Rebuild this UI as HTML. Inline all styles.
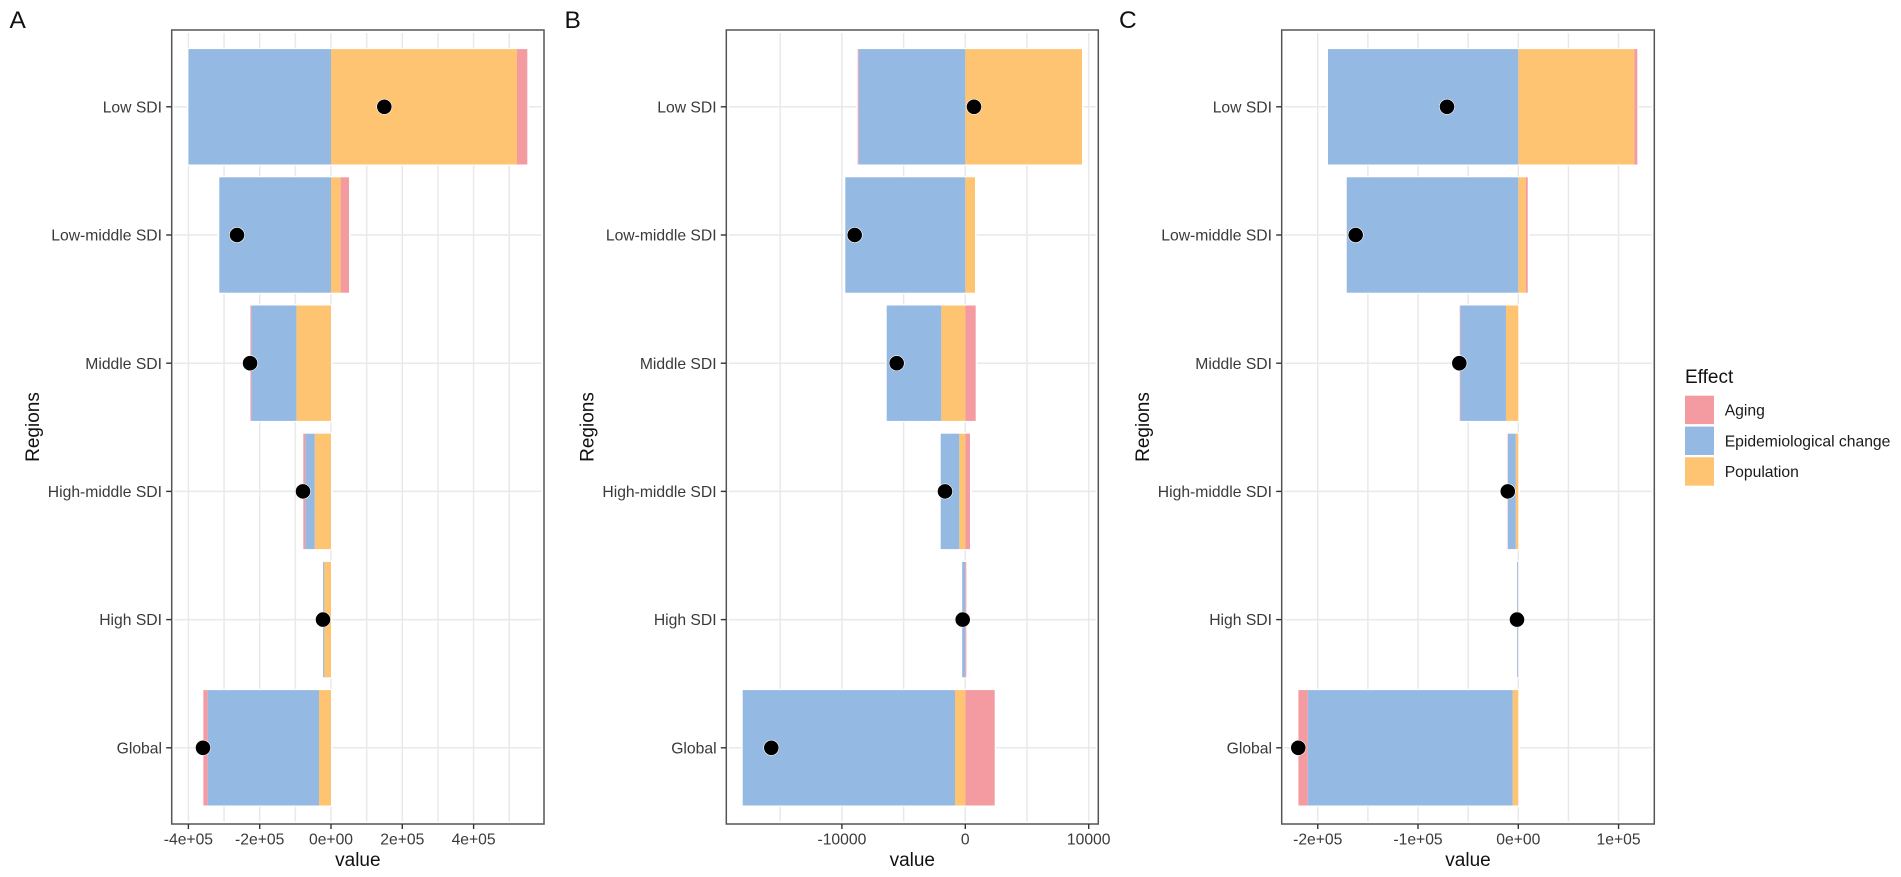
<!DOCTYPE html>
<html lang="en">
<head>
<meta charset="utf-8">
<title>Decomposition of change by SDI region</title>
<style>
html,body{margin:0;padding:0;background:#fff;}
svg{display:block;font-family:"Liberation Sans",Arial,sans-serif;}
</style>
</head>
<body>
<svg id="chart" xmlns="http://www.w3.org/2000/svg" width="1901" height="877" viewBox="0 0 1901 877">
  <rect x="0" y="0" width="1901" height="877" fill="#fff"/>
  <text x="9.5" y="28" font-size="24.5" fill="#111">A</text>
  <text x="564.5" y="28" font-size="24.5" fill="#111">B</text>
  <text x="1119" y="28" font-size="24.5" fill="#111">C</text>
  <g id="panels"></g>
  <g>
    <text x="1685" y="383" font-size="19" fill="#111">Effect</text>
    <rect x="1685" y="395.7" width="29" height="28.4" fill="#F39BA0"/>
    <rect x="1685" y="426.6" width="29" height="28.4" fill="#94B9E3"/>
    <rect x="1685" y="457.3" width="29" height="28.4" fill="#FEC471"/>
    <text x="1724.7" y="415.6" font-size="15.7" fill="#1a1a1a">Aging</text>
    <text x="1724.7" y="446.3" font-size="15.7" fill="#1a1a1a">Epidemiological change</text>
    <text x="1724.7" y="477" font-size="15.7" fill="#1a1a1a">Population</text>
  </g>
</svg>
<script>
// Categories, bottom to top
const regions = ['Global', 'High SDI', 'High-middle SDI', 'Middle SDI', 'Low-middle SDI', 'Low SDI'];

// Panel A values
const aAging = [-12000, -300, -5700, -2700, 23500, 29000];
const aEpi = [-312300, -3400, -26300, -126300, -313300, -400000];
const aPop = [-33700, -18700, -45700, -97000, 27000, 521700];
const aNet = [-359000, -22400, -78500, -227000, -263700, 149500];
const aDomain = [-446850, 597480];
const aMajorTicks = [-400000, -200000, 0, 200000, 400000];
const aMajorLabels = ['-4e+05', '-2e+05', '0e+00', '2e+05', '4e+05'];
const aMinorTicks = [-300000, -100000, 100000, 300000, 500000];

// Panel B values
const bAging = [2382, 81, 381, 843, 0, -81];
const bEpi = [-17204, -243, -1507, -4425, -9725, -8639];
const bPop = [-835, -10, -486, -1945, 786, 9457];
const bNet = [-15721, -211, -1645, -5560, -8963, 705];
const bDomain = [-19368, 10778];
const bMajorTicks = [-10000, 0, 10000];
const bMajorLabels = ['-10000', '0', '10000'];
const bMinorTicks = [-15000, -5000, 5000];

// Panel C values
const cAging = [-9300, -100, -300, -600, 2000, 3000];
const cEpi = [-204400, -1000, -7700, -45500, -171100, -189800];
const cPop = [-5600, -100, -2600, -12300, 7400, 115700];
const cNet = [-219400, -1300, -10500, -58800, -162200, -71100];
const cDomain = [-235960, 135630];
const cMajorTicks = [-200000, -100000, 0, 100000];
const cMajorLabels = ['-2e+05', '-1e+05', '0e+00', '1e+05'];
const cMinorTicks = [-150000, -50000, 50000];

const NS = 'http://www.w3.org/2000/svg';
const TOP = 30, BOTTOM = 824, BAND = 128.2, BASE = 747.8, BAR_H = 115.4;
const COLORS = { aging: '#F39BA0', epi: '#94B9E3', pop: '#FEC471' };

function yPos(i) { return BASE - i * BAND; }

function mk(tag, attrs, parent) {
  const el = document.createElementNS(NS, tag);
  for (const k in attrs) el.setAttribute(k, attrs[k]);
  parent.appendChild(el);
  return el;
}

function drawPanel(cfg) {
  const x = v => cfg.left + (v - cfg.domain[0]) / (cfg.domain[1] - cfg.domain[0]) * (cfg.right - cfg.left);

  const g = mk('g', {}, document.getElementById('panels'));
  
  

  // gridlines
  cfg.minor.concat(cfg.major).forEach(v => {
    const l = mk('line', { x1: x(v), x2: x(v), y1: TOP + 3, y2: BOTTOM - 2.5, stroke: '#e9e9e9', 'stroke-width': 1.5 }, g);
    
    
  });
  regions.forEach((r, i) => {
    const l = mk('line', { x1: cfg.left + 2.5, x2: cfg.right - 2.5, y1: yPos(i), y2: yPos(i), stroke: '#e9e9e9', 'stroke-width': 1.5 }, g);
    
    
  });

  // stacked bars
  regions.forEach((r, i) => {
    const parts = [['pop', cfg.pop[i]], ['epi', cfg.epi[i]], ['aging', cfg.aging[i]]];
    let pos = 0, neg = 0;
    const segs = [];
    parts.forEach(p => {
      const v = p[1];
      if (v >= 0) { segs.push([p[0], pos, pos + v]); pos += v; }
      else { segs.push([p[0], neg + v, neg]); neg += v; }
    });
    const yc = yPos(i);
    const halo = mk('rect', { x: x(neg) - 1.6, y: yc - BAR_H / 2 - 1.2, width: x(pos) - x(neg) + 3.2, height: BAR_H + 2.4, fill: '#fff' }, g);
    
    
    segs.forEach(s => {
      if (s[2] === s[1]) return;
      const b = mk('rect', { x: x(s[1]), y: yc - BAR_H / 2, width: x(s[2]) - x(s[1]), height: BAR_H, fill: COLORS[s[0]] }, g);
      
      
    });
  });

  // net-change points
  regions.forEach((r, i) => {
    const c = mk('circle', { cx: x(cfg.net[i]), cy: yPos(i), r: 7.6, fill: '#000', stroke: '#fff', 'stroke-width': 0.6 }, g);
    
    
  });

  // border
  const border = mk('rect', { x: cfg.left, y: TOP, width: cfg.right - cfg.left, height: BOTTOM - TOP, fill: 'none', stroke: '#555', 'stroke-width': 1.5 }, g);
  
  

  // y axis
  regions.forEach((r, i) => {
    const t = mk('line', { x1: cfg.left - 5.5, x2: cfg.left, y1: yPos(i), y2: yPos(i), stroke: '#333', 'stroke-width': 1.4 }, g);
    
    
    const lab = mk('text', { x: cfg.left - 9.7, y: yPos(i) + 5.6, 'text-anchor': 'end', 'font-size': 15.7, fill: '#3a3a3a' }, g);
    
    
    lab.textContent = r;
  });

  // x axis
  cfg.major.forEach((v, i) => {
    const t = mk('line', { x1: x(v), x2: x(v), y1: BOTTOM, y2: BOTTOM + 5, stroke: '#333', 'stroke-width': 1.4 }, g);
    
    
    const lab = mk('text', { x: x(v), y: BOTTOM + 20.5, 'text-anchor': 'middle', 'font-size': 15.7, fill: '#3a3a3a' }, g);
    
    
    lab.textContent = cfg.labels[i];
  });

  // axis titles
  const xt = mk('text', { x: (cfg.left + cfg.right) / 2, y: 866, 'text-anchor': 'middle', 'font-size': 19, fill: '#111' }, g);
  
  
  xt.textContent = 'value';

  const yt = mk('text', { x: 0, y: 0, 'text-anchor': 'middle', 'font-size': 19, fill: '#111', transform: 'translate(' + (cfg.left - 132.7) + ',427) rotate(-90)' }, g);
  
  
  yt.textContent = 'Regions';
}

drawPanel({ id: 'a', left: 171.7, right: 544, domain: aDomain, major: aMajorTicks, labels: aMajorLabels, minor: aMinorTicks, aging: aAging, epi: aEpi, pop: aPop, net: aNet });
drawPanel({ id: 'b', left: 726.3, right: 1098.3, domain: bDomain, major: bMajorTicks, labels: bMajorLabels, minor: bMinorTicks, aging: bAging, epi: bEpi, pop: bPop, net: bNet });
drawPanel({ id: 'c', left: 1281.7, right: 1654.3, domain: cDomain, major: cMajorTicks, labels: cMajorLabels, minor: cMinorTicks, aging: cAging, epi: cEpi, pop: cPop, net: cNet });
</script>
</body>
</html>
